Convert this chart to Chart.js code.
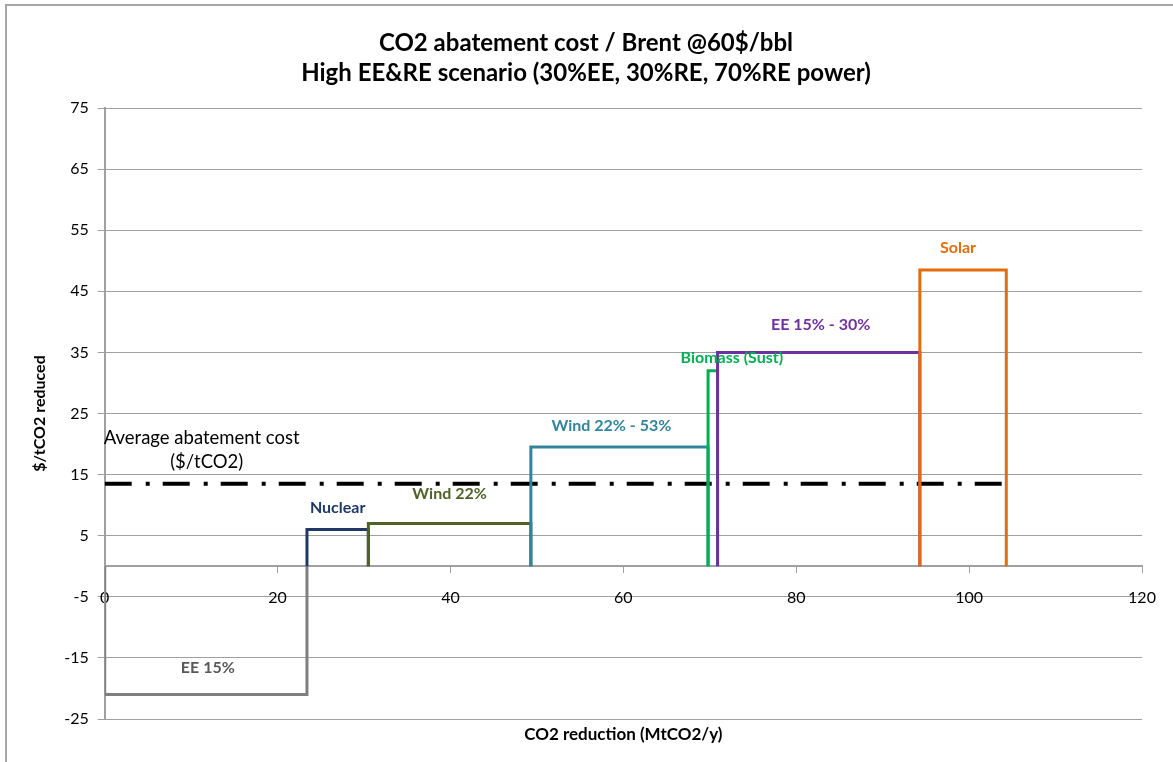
<!DOCTYPE html>
<html>
<head>
<meta charset="utf-8">
<script src="https://cdn.jsdelivr.net/npm/chart.js@4"></script>
<style>
  html, body { margin: 0; padding: 0; background: #fff; }
  #wrap { position: relative; width: 1173px; height: 762px; }
</style>
</head>
<body>
<div id="wrap"><canvas id="chart"></canvas></div>
<script>
// abatement cost curve data
const categories = ["EE 15%", "Nuclear", "Wind 22%", "Wind 22% - 53%", "Biomass (Sust)", "EE 15% - 30%", "Solar"];
const startX = [0, 23.4, 30.5, 49.3, 69.8, 70.9, 94.3];
const endX = [23.4, 30.5, 49.3, 69.8, 70.9, 94.3, 104.3];
const costs = [-21, 6, 7, 19.5, 32, 35, 48.5];
const averageCost = 13.5;
const averageLabel = ["Average abatement cost", "($/tCO2)"];
const xTitle = "CO2 reduction (MtCO2/y)";

const lineColors = ["#7f7f7f", "#1f3864", "#4f6228", "#31849b", "#00b050", "#7030a0", "#e46c0a"];
const labelColors = ["#595959", "#1f3864", "#4f6228", "#31849b", "#00b050", "#7030a0", "#e46c0a"];

const FONT = "Lato, 'Open Sans', sans-serif";

const datasets = categories.map((name, i) => ({
  label: name,
  data: [
    { x: startX[i], y: 0 },
    { x: startX[i], y: costs[i] },
    { x: endX[i], y: costs[i] },
    { x: endX[i], y: 0 },
  ],
  showLine: true,
  borderColor: lineColors[i],
  borderWidth: 3,
  pointRadius: 0,
  fill: false,
  order: categories.length - i,
}));

datasets.push({
  label: "Average",
  data: [
    { x: 0, y: averageCost },
    { x: endX[endX.length - 1], y: averageCost },
  ],
  showLine: true,
  borderColor: "#000",
  borderWidth: 4,
  borderDash: [27, 14, 4, 13],
  pointRadius: 0,
  fill: false,
  order: 100,
});

// frame, block labels, average text and x axis title
const annotate = {
  id: "annotate",
  beforeDraw(chart) {
    const c = chart.ctx;
    c.save();
    c.fillStyle = "#fff";
    c.fillRect(0, 0, chart.width, chart.height);
    c.strokeStyle = "#a6a6a6";
    c.lineWidth = 2;
    c.beginPath();
    c.moveTo(6, chart.height);
    c.lineTo(6, 5);
    c.lineTo(chart.width, 5);
    c.stroke();
    c.restore();
  },
  afterDatasetsDraw(chart, args, opts) {
    const c = chart.ctx;
    const xs = chart.scales.x, ys = chart.scales.y;
    const area = chart.chartArea;
    c.save();
    c.textAlign = "center";
    c.textBaseline = "middle";
    c.font = "bold 16px " + FONT;
    categories.forEach((name, i) => {
      const x = xs.getPixelForValue((startX[i] + endX[i]) / 2) + opts.dx[i];
      const y = ys.getPixelForValue(costs[i]) - opts.dy[i];
      c.fillStyle = labelColors[i];
      c.fillText(name, x, y);
    });
    c.font = "18.5px " + FONT;
    c.fillStyle = "#000";
    const ay = ys.getPixelForValue(averageCost);
    const ax = xs.getPixelForValue(0);
    c.fillText(averageLabel[0], ax + 97, ay - 46);
    c.fillText(averageLabel[1], ax + 102, ay - 22);

    c.font = "bold 17px " + FONT;
    c.fillText(xTitle, (area.left + area.right) / 2, area.bottom + 16);
    c.restore();
  },
};

new Chart(document.getElementById("chart"), {
  type: "scatter",
  data: { datasets },
  plugins: [annotate],
  options: {
    responsive: true,
    maintainAspectRatio: false,
    animation: false,
    layout: { padding: { left: 30, right: 31, top: 0, bottom: 43 } },
    plugins: {
      legend: { display: false },
      tooltip: { enabled: false },
      title: {
        display: true,
        text: ["CO2 abatement cost / Brent @60$/bbl", "High EE&RE scenario (30%EE, 30%RE, 70%RE power)"],
        color: "#000",
        font: { family: FONT, size: 24, weight: "bold", lineHeight: 1.25 },
        padding: { top: 28, bottom: 20 },
      },
      annotate: {
        dx: [2, 0, 0, -8, 19, 2, -5],
        dy: [27, 22, 30, 21, 13, 28, 22],
      },
    },
    scales: {
      x: {
        type: "linear",
        position: { y: 0 },
        min: 0,
        max: 120,
        ticks: { stepSize: 20, color: "#000", font: { family: FONT, size: 16 }, padding: 16 },
        grid: { drawOnChartArea: false, color: "#a0a0a0", tickLength: 6 },
        border: { color: "#a0a0a0", width: 2 },
      },
      y: {
        type: "linear",
        min: -25,
        max: 75,
        ticks: { stepSize: 10, color: "#000", font: { family: FONT, size: 16 }, padding: 9 },
        grid: { color: "#a0a0a0", lineWidth: 1, tickLength: 7 },
        border: { color: "#a0a0a0", width: 2 },
        title: {
          display: true,
          text: "$/tCO2 reduced",
          color: "#000",
          font: { family: FONT, size: 16, weight: "bold" },
          padding: { top: 0, bottom: 6 },
        },
      },
    },
  },
});
</script>
</body>
</html>
